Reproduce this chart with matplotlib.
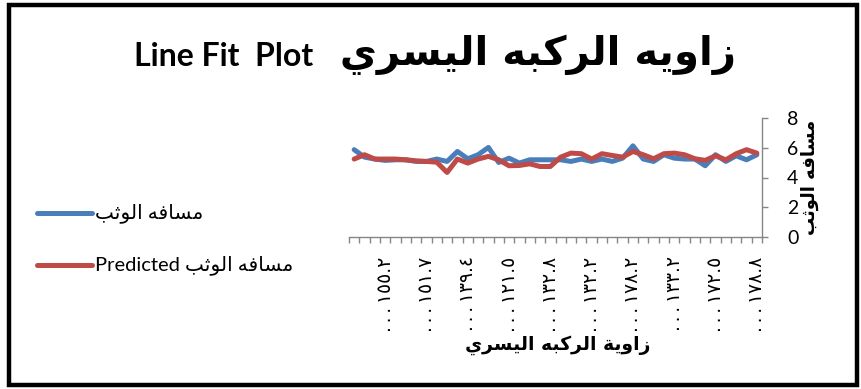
import matplotlib
matplotlib.use("Agg")
import matplotlib.pyplot as plt
from matplotlib.patches import Rectangle
from matplotlib.lines import Line2D

# ---------------------------------------------------------------- data
title_en = "Line Fit  Plot"
title_ar = "زاويه الركبه اليسري"
x_title = "زاوية الركبه اليسري"
y_title = "مسافه الوثب"
series_actual = "مسافه الوثب"
series_pred_prefix = "Predicted"

actual = [5.87, 5.37, 5.24, 5.15, 5.19, 5.19, 5.08, 5.08, 5.24, 5.08,
          5.75, 5.26, 5.53, 6.02, 5.01, 5.30, 4.97, 5.19, 5.19, 5.19,
          5.19, 5.08, 5.24, 5.08, 5.24, 5.08, 5.30, 6.13, 5.24, 5.08,
          5.53, 5.30, 5.24, 5.24, 4.79, 5.53, 5.08, 5.46, 5.19, 5.53]
predicted = [5.24, 5.53, 5.24, 5.24, 5.24, 5.19, 5.12, 5.08, 5.03, 4.34,
             5.24, 4.97, 5.24, 5.42, 5.19, 4.79, 4.81, 4.92, 4.74, 4.74,
             5.37, 5.64, 5.60, 5.24, 5.60, 5.48, 5.37, 5.75, 5.53, 5.26,
             5.60, 5.64, 5.53, 5.26, 5.15, 5.46, 5.19, 5.60, 5.87, 5.64]
tick_idx = [3, 7, 11, 15, 19, 23, 27, 31, 35, 39]
tick_labels = ["١٥٥.٢", "١٥١.٧", "١٣٩.٤", "١٢١.٥", "١٣٢.٨",
               "١٣٢.٢", "١٧٨.٢", "١٣٣.٢", "١٧٢.٥", "١٧٨.٨"]
y_ticks = [0, 2, 4, 6, 8]

# ------------------------------------------------ minimal Arabic shaping
# letter: (isolated, final, initial, medial); two-form letters join right only
FORMS = {
    "ا": ("\uFE8D", "\uFE8E"),
    "ب": ("\uFE8F", "\uFE90", "\uFE91", "\uFE92"),
    "ة": ("\uFE93", "\uFE94"),
    "ث": ("\uFE99", "\uFE9A", "\uFE9B", "\uFE9C"),
    "ر": ("\uFEAD", "\uFEAE"),
    "ز": ("\uFEAF", "\uFEB0"),
    "س": ("\uFEB1", "\uFEB2", "\uFEB3", "\uFEB4"),
    "ف": ("\uFED1", "\uFED2", "\uFED3", "\uFED4"),
    "ك": ("\uFED9", "\uFEDA", "\uFEDB", "\uFEDC"),
    "ل": ("\uFEDD", "\uFEDE", "\uFEDF", "\uFEE0"),
    "م": ("\uFEE1", "\uFEE2", "\uFEE3", "\uFEE4"),
    "ه": ("\uFEE9", "\uFEEA", "\uFEEB", "\uFEEC"),
    "و": ("\uFEED", "\uFEEE"),
    "ي": ("\uFEF1", "\uFEF2", "\uFEF3", "\uFEF4"),
}


def shape(text):
    """Return Arabic text in joined presentation forms, in visual order."""
    out = []
    n = len(text)
    for i, ch in enumerate(text):
        if ch not in FORMS:
            out.append(ch)
            continue
        forms = FORMS[ch]
        prev = text[i - 1] if i > 0 else ""
        nxt = text[i + 1] if i + 1 < n else ""
        join_prev = prev in FORMS and len(FORMS[prev]) == 4
        join_next = len(forms) == 4 and nxt in FORMS
        if join_prev and join_next:
            out.append(forms[3])
        elif join_prev:
            out.append(forms[1])
        elif join_next:
            out.append(forms[2])
        else:
            out.append(forms[0])
    return "".join(out)[::-1]


def truncated(s):
    # category text cut short, ellipsis on the leading side
    return ".\u2009.\u2009.\u2009" + s


# ---------------------------------------------------------------- figure
FONT = ["Lato", "DejaVu Sans"]
AR = ["DejaVu Sans"]
plt.rcParams["font.family"] = FONT

W, H = 861, 389
fig = plt.figure(figsize=(W / 100, H / 100), dpi=100)
fig.patch.set_facecolor("white")

# outer chart frame
fig.add_artist(Rectangle((9 / W, 4 / H), 848 / W, 380 / H, transform=fig.transFigure,
                         fill=False, edgecolor="black", linewidth=3.2))

ax = fig.add_axes([349 / W, 1 - 237 / H, (762 - 349) / W, (237 - 118) / H])
x = list(range(len(actual)))
blue = "#4A7EBB"
red = "#BE4B48"
ax.plot(x, actual, color=blue, linewidth=3.6, solid_joinstyle="round",
        solid_capstyle="round")
ax.plot(x, predicted, color=red, linewidth=3.6, solid_joinstyle="round",
        solid_capstyle="round")

ax.set_xlim(-0.5, len(actual) - 0.5)
ax.set_ylim(0, 8)
grey = "#868686"
for side in ("left", "top"):
    ax.spines[side].set_visible(False)
for side in ("right", "bottom"):
    ax.spines[side].set_color(grey)
    ax.spines[side].set_linewidth(1.0)

ax.yaxis.tick_right()
ax.set_yticks(y_ticks)
ax.set_yticklabels([str(v) for v in y_ticks], fontsize=14)
ax.tick_params(axis="y", direction="out", length=4, width=1.0, color=grey, pad=14)

ax.set_xticks(tick_idx)
ax.set_xticklabels([truncated(t) for t in tick_labels], rotation=90,
                   fontsize=13.5, family=AR)
ax.tick_params(axis="x", which="major", length=0, pad=14)
ax.set_xticks([i - 0.5 for i in range(len(actual) + 1)], minor=True)
ax.tick_params(axis="x", which="minor", direction="out", length=4, width=1.0, color=grey)

# titles
fig.text(313 / W, 1 - 57 / H, title_en, ha="right", va="center",
         fontsize=23, fontweight="bold", family=FONT)
fig.text(538 / W, 1 - 55 / H, shape(title_ar), ha="center", va="center",
         fontsize=29, fontweight="bold", family=AR)
fig.text(558 / W, 1 - 345 / H, shape(x_title), ha="center", va="center",
         fontsize=13.5, fontweight="bold", family=AR)
fig.text(810 / W, 1 - 177 / H, shape(y_title), ha="center", va="center",
         rotation=90, fontsize=13, fontweight="bold", family=AR)

# legend
for y_px, col, label in ((213, blue, shape(series_actual)),
                         (265, red, series_pred_prefix + " " + shape(series_actual))):
    yf = 1 - y_px / H
    fig.add_artist(Line2D([37 / W, 92 / W], [yf, yf], transform=fig.transFigure,
                          color=col, linewidth=3.6, solid_capstyle="round"))
    fig.text(95 / W, yf, label, ha="left", va="center", fontsize=14.5, family=FONT)

fig.savefig("out.png", dpi=100)
